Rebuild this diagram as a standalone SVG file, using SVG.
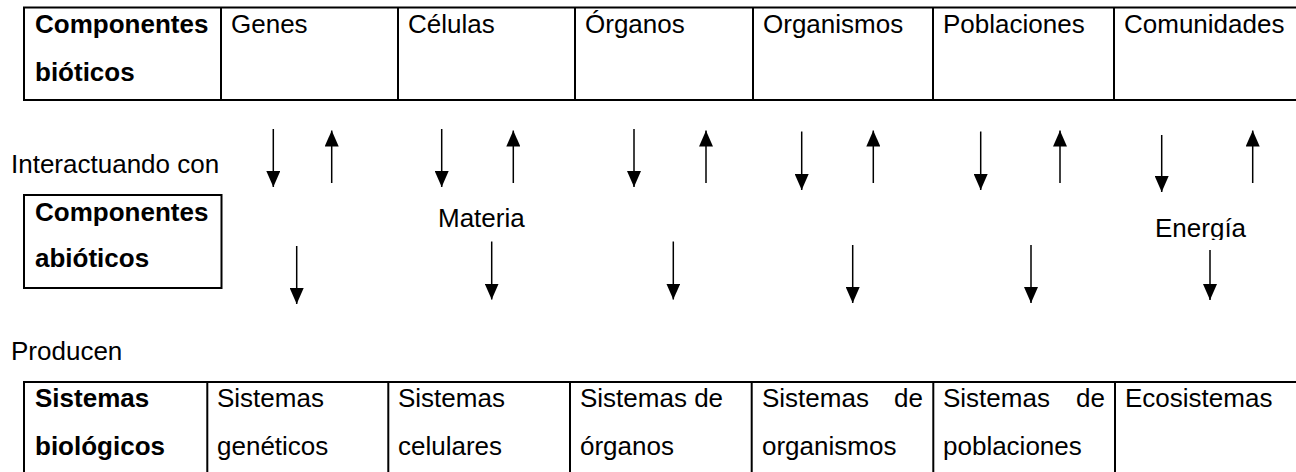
<svg xmlns="http://www.w3.org/2000/svg" width="1296" height="472" viewBox="0 0 1296 472">
<style>
text{font-family:"Liberation Sans",Arial,sans-serif;font-size:26px;fill:#000}
.b{font-weight:bold}
.cell{fill:none;stroke:#000;stroke-width:2}
.ln{stroke:#000;stroke-width:2}
.arr{stroke:#000;stroke-width:1.5;fill:none;marker-end:url(#ah)}
</style>
<defs>
<marker id="ah" viewBox="0 0 16 14" refX="16" refY="7" markerWidth="16" markerHeight="14" markerUnits="userSpaceOnUse" orient="auto">
<polygon points="0,0 16,7 0,14" fill="#000"/>
</marker>
<clipPath id="clipE"><rect x="1140" y="200" width="140" height="40"/></clipPath>
</defs>
<rect width="1296" height="472" fill="#fff"/>

<g id="bioticos">
<path class="ln" d="M24,7.5 H1300 M24,100 H1300 M24,6.5 V101 M221,7.5 V100 M398,7.5 V100 M575,7.5 V100 M753,7.5 V100 M933,7.5 V100 M1114,7.5 V100"/>
<text class="b" x="35" y="33">Componentes</text>
<text class="b" x="35" y="81">bióticos</text>
</g>
<g id="genes"><text x="231" y="33">Genes</text></g>
<g id="celulas"><text x="408" y="33">Células</text></g>
<g id="organos"><text x="585" y="33">Órganos</text></g>
<g id="organismos"><text x="763" y="33">Organismos</text></g>
<g id="poblaciones"><text x="943" y="33">Poblaciones</text></g>
<g id="comunidades"><text x="1124" y="33">Comunidades</text></g>

<g id="interactuando"><text x="11" y="173">Interactuando con</text></g>
<g id="abioticos">
<rect class="cell" x="24" y="195" width="197.5" height="93"/>
<text class="b" x="35" y="221">Componentes</text>
<text class="b" x="35" y="267">abióticos</text>
</g>
<g id="materia"><text x="438" y="227">Materia</text></g>
<g id="energia"><text x="1155" y="237" clip-path="url(#clipE)">Energía</text></g>
<g id="producen"><text x="11" y="360">Producen</text></g>

<g id="sistemas">
<path class="ln" d="M24,382 H1300 M24,381 V472 M207.3,382 V472 M388.3,382 V472 M570,382 V472 M751.7,382 V472 M933.3,382 V472 M1115,382 V472"/>
<text class="b" x="35" y="407">Sistemas</text>
<text class="b" x="35" y="455">biológicos</text>
</g>
<g id="sis-geneticos"><text x="217" y="407">Sistemas</text><text x="217" y="455">genéticos</text></g>
<g id="sis-celulares"><text x="398" y="407">Sistemas</text><text x="398" y="455">celulares</text></g>
<g id="sis-organos"><text x="580" y="407">Sistemas de</text><text x="580" y="455">órganos</text></g>
<g id="sis-organismos"><text x="762" y="407">Sistemas</text><text x="923" y="407" text-anchor="end">de</text><text x="762" y="455">organismos</text></g>
<g id="sis-poblaciones"><text x="943" y="407">Sistemas</text><text x="1105" y="407" text-anchor="end">de</text><text x="943" y="455">poblaciones</text></g>
<g id="ecosistemas"><text x="1125" y="407">Ecosistemas</text></g>

<g id="connectors">
<line class="arr" x1="273.3" y1="129" x2="273.3" y2="187"/>
<line class="arr" x1="331.7" y1="183" x2="331.7" y2="130.5"/>
<line class="arr" x1="441.7" y1="129" x2="441.7" y2="187"/>
<line class="arr" x1="513.3" y1="183" x2="513.3" y2="130.5"/>
<line class="arr" x1="634" y1="129" x2="634" y2="187"/>
<line class="arr" x1="706" y1="183" x2="706" y2="130.5"/>
<line class="arr" x1="801.7" y1="131.5" x2="801.7" y2="190"/>
<line class="arr" x1="873.3" y1="183" x2="873.3" y2="130.5"/>
<line class="arr" x1="980.7" y1="131.5" x2="980.7" y2="190"/>
<line class="arr" x1="1060" y1="183" x2="1060" y2="130.5"/>
<line class="arr" x1="1161.7" y1="135" x2="1161.7" y2="192"/>
<line class="arr" x1="1252.7" y1="183" x2="1252.7" y2="130.5"/>
<line class="arr" x1="296.7" y1="246" x2="296.7" y2="304"/>
<line class="arr" x1="491.7" y1="241.5" x2="491.7" y2="299.5"/>
<line class="arr" x1="673.3" y1="241.5" x2="673.3" y2="299.5"/>
<line class="arr" x1="852.7" y1="245" x2="852.7" y2="303"/>
<line class="arr" x1="1031" y1="245" x2="1031" y2="303"/>
<line class="arr" x1="1210" y1="250" x2="1210" y2="300"/>
</g>
</svg>
